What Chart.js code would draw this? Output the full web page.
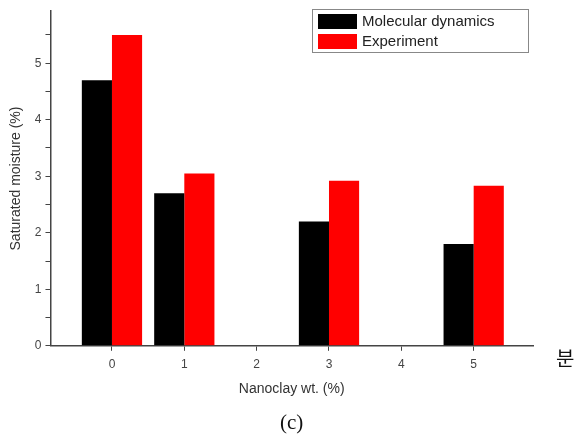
<!DOCTYPE html>
<html>
<head>
<meta charset="utf-8">
<script src="https://cdn.jsdelivr.net/npm/chart.js@4/dist/chart.umd.min.js"></script>
<style>
  body { margin: 0; background: #fff; overflow: hidden; }
  #wrap { position: relative; width: 580px; height: 439px; overflow: hidden; }
  #caption { position: absolute; left: 280px; top: 410px; font: 21px "Liberation Serif", serif; color: #111; white-space: nowrap; }
</style>
</head>
<body>
<div id="wrap">
  <canvas id="chart" width="580" height="439"></canvas>
  <div id="caption">(c)</div>
</div>
<script>
const categories = [0, 1, 3, 5];
const molecularDynamics = [4.7, 2.7, 2.2, 1.8];
const experiment = [5.5, 3.05, 2.92, 2.83];
const xTicks = [0, 1, 2, 3, 4, 5];
const seriesNames = ["Molecular dynamics", "Experiment"];
const sideText = "분";

const toPoints = vals => categories.map((c, i) => ({ x: c, y: vals[i] }));

// legend drawn with a frame, like the original
const boxLegend = {
  id: "boxLegend",
  afterDraw(chart) {
    const ctx = chart.ctx;
    const right = chart.chartArea.right - 5;
    const left = right - 216;
    const top = 9;
    ctx.save();
    ctx.strokeStyle = "#888";
    ctx.lineWidth = 1;
    ctx.fillStyle = "#fff";
    ctx.fillRect(left, top, 216, 43);
    ctx.strokeRect(left + 0.5, top + 0.5, 216, 43);
    ctx.font = "15px 'Liberation Sans', Arial, sans-serif";
    ctx.textBaseline = "middle";
    chart.data.datasets.forEach((ds, i) => {
      const y = top + 5 + i * 20;
      ctx.fillStyle = ds.backgroundColor;
      ctx.fillRect(left + 6, y, 39, 15);
      ctx.fillStyle = "#222";
      ctx.fillText(ds.label, left + 50, y + 8);
    });
    // stray character at the right edge of the scan
    ctx.font = "20px 'Noto Sans CJK SC', 'Noto Sans CJK KR', sans-serif";
    ctx.fillStyle = "#111";
    ctx.textAlign = "left";
    ctx.fillText(sideText, 556, 358);
    ctx.restore();
  }
};

new Chart(document.getElementById("chart"), {
  type: "bar",
  data: {
    datasets: [
      { label: seriesNames[0], data: toPoints(molecularDynamics), backgroundColor: "#000000" },
      { label: seriesNames[1], data: toPoints(experiment), backgroundColor: "#ff0000" }
    ]
  },
  options: {
    responsive: false,
    animation: false,
    categoryPercentage: 0.833,
    barPercentage: 1,
    layout: { padding: { top: 10, right: 47, bottom: 37, left: 4 } },
    plugins: { legend: { display: false }, tooltip: { enabled: false } },
    scales: {
      x: {
        type: "linear",
        offset: false,
        min: -0.85,
        max: 5.82,
        afterBuildTicks: axis => { axis.ticks = xTicks.map(v => ({ value: v })); },
        grid: { offset: false, drawOnChartArea: false, drawTicks: true, tickLength: 5, color: "#444" },
        border: { display: true, color: "#444", width: 1.5 },
        ticks: { color: "#444", font: { size: 12, family: "'Liberation Sans', Arial" }, padding: 7 },
        title: { display: true, text: "Nanoclay wt. (%)", color: "#333", font: { size: 14, family: "'Liberation Sans', Arial" }, padding: { top: 2 } }
      },
      y: {
        min: 0,
        max: 5.92,
        afterBuildTicks: axis => { axis.ticks = axis.ticks.filter(t => Math.abs(t.value * 2 - Math.round(t.value * 2)) < 1e-6); },
        grid: { drawOnChartArea: false, drawTicks: true, tickLength: 5, color: "#444" },
        border: { display: true, color: "#444", width: 1.5 },
        ticks: {
          stepSize: 0.5,
          color: "#444",
          font: { size: 12, family: "'Liberation Sans', Arial" },
          padding: 4,
          callback: v => (Number.isInteger(v) ? v : "")
        },
        title: { display: true, text: "Saturated moisture (%)", color: "#333", font: { size: 14, family: "'Liberation Sans', Arial" }, padding: { bottom: 6 } }
      }
    }
  },
  plugins: [boxLegend]
});
</script>
</body>
</html>
